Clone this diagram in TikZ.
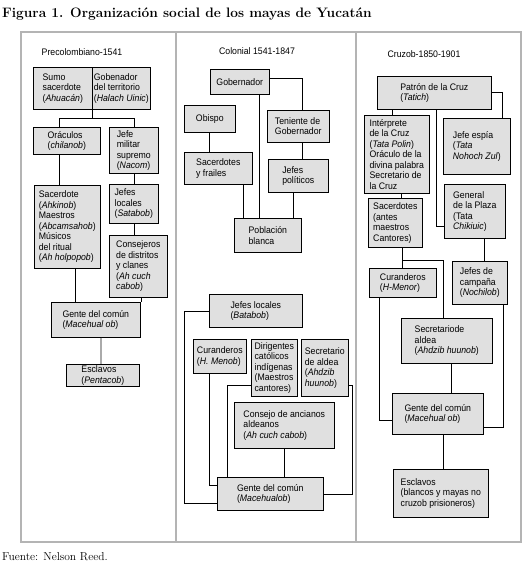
\documentclass[tikz,border=0pt]{standalone}
\usepackage{fontspec}
\newfontfamily\boxfont{Liberation Sans}[FakeStretch=0.92]
\usetikzlibrary{positioning}
\definecolor{boxgray}{RGB}{224,224,224}
\definecolor{framegray}{RGB}{180,180,180}
\definecolor{linkgray}{RGB}{170,170,170}

\begin{document}
\begin{tikzpicture}[
    x=1pt, y=-1pt,
    box/.style 2 args={rectangle, draw, fill=boxgray, line width=0.6pt, anchor=north west, minimum width=#1pt, minimum height=#2pt, inner sep=1.5pt, align=left, font=\boxfont\fontsize{9.5}{10.5}\selectfont},
    header/.style={font=\boxfont\fontsize{9.5}{10.5}\selectfont},
    link/.style={line width=0.8pt},
    softlink/.style={line width=1.6pt, linkgray},
    frame/.style={line width=1.6pt, framegray}
]
    \useasboundingbox (0,0) rectangle (529,573);

    % Title and frame
    \node[anchor=west, inner sep=0, font=\bfseries\fontsize{13.7}{15}\selectfont] (title) at (2,14) {Figura 1. Organización social de los mayas de Yucatán};
    \draw[frame] (21,32) rectangle (521,542);
    \draw[frame] (176,32) -- (176,542);
    \draw[frame] (356,32) -- (356,542);

    % Column headers
    \node[header] (hprecol) at (82,52) {Precolombiano-1541};
    \node[header] (hcolonial) at (257,51) {Colonial 1541-1847};
    \node[header] (hcruzob) at (424,54) {Cruzob-1850-1901};

    % Precolombiano
    \node[box={59}{42}] (sumo) at (33,67) {Sumo\\sacerdote\\(\textit{Ahuacán})};
    \node[box={58}{42}] (halach) at (92,67) {Gobenador\\del territorio\\(\textit{Halach Uinic})};
    \node[box={67}{27}] (oraculos) at (33,127) {Oráculos\\(\textit{chilanob})};
    \node[box={49}{46}] (nacom) at (109,127) {Jefe\\militar\\supremo\\(\textit{Nacom})};
    \node[box={66}{83}] (ahkinob) at (34,185) {Sacerdote\\(\textit{Ahkinob})\\Maestros\\(\textit{Abcamsahob})\\Músicos\\del ritual\\(\textit{Ah holpopob})};
    \node[box={49}{39}] (satabob) at (109,184) {Jefes\\locales\\(\textit{Satabob})};
    \node[box={58}{62}] (consejeros) at (109,235) {Consejeros\\de distritos\\y clanes\\(\textit{Ah cuch}\\\textit{cabob})};
    \node[box={89}{35}] (macehual) at (51,302) {Gente del común\\(\textit{Macehual ob})};
    \node[box={73}{22}] (pentacob) at (66,364) {Esclavos\\(\textit{Pentacob})};

    % Colonial
    \node[box={59}{25}] (gobernador) at (210,69) {Gobernador};
    \node[box={51}{27}] (obispo) at (184,105) {Obispo};
    \node[box={62}{32}] (teniente) at (267,110) {Teniente de\\Gobernador};
    \node[box={68}{32}] (frailes) at (184,152) {Sacerdotes\\y frailes};
    \node[box={60}{33}] (politicos) at (268,159) {Jefes\\políticos};
    \node[box={67}{34}] (blanca) at (234,218) {Población\\blanca};
    \node[box={93}{33}] (batabob) at (209,294) {Jefes locales\\(\textit{Batabob})};
    \node[box={53}{34}] (menob) at (193,339) {Curanderos\\(\textit{H. Menob})};
    \node[box={46}{57}] (dirigentes) at (251,339) {Dirigentes\\católicos\\indígenas\\(Maestros\\cantores)};
    \node[box={47}{57}] (ahdzib) at (301,339) {Secretario\\de aldea\\(\textit{Ahdzib}\\\textit{huunob})};
    \node[box={100}{46}] (ancianos) at (234,402) {Consejo de ancianos\\aldeanos\\(\textit{Ah cuch cabob})};
    \node[box={106}{33}] (macehualob) at (217,477) {Gente del común\\(\textit{Macehualob})};

    % Cruzob
    \node[box={114}{33}] (tatich) at (377,76) {Patrón de la Cruz\\(\textit{Tatich})};
    \node[box={67}{56}] (espia) at (443,118) {Jefe espía\\(\textit{Tata}\\\textit{Nohoch Zul})};
    \node[box={65}{78}] (polin) at (364,115) {Intérprete\\de la Cruz\\(\textit{Tata Polin})\\Oráculo de la\\divina palabra\\Secretario de\\la Cruz};
    \node[box={61}{54}] (chikiuic) at (444,184) {General\\de la Plaza\\(Tata\\\textit{Chikiuic})};
    \node[box={54}{49}] (cantores) at (368,198) {Sacerdotes\\(antes\\maestros\\Cantores)};
    \node[box={67}{29}] (hmenor) at (369,268) {Curanderos\\(\textit{H-Menor})};
    \node[box={55}{43}] (nochilob) at (452,261) {Jefes de\\campaña\\(\textit{Nochilob})};
    \node[box={91}{45}] (ahdzib3) at (401,318) {Secretariode\\aldea\\(\textit{Ahdzib huunob})};
    \node[box={91}{41}] (macehual3) at (392,393) {Gente del común\\(\textit{Macehual ob})};
    \node[box={95}{48}] (prisioneros) at (393,469) {Esclavos\\(blancos y mayas no\\cruzob prisioneros)};

    % Links precolombiano
    \draw[link] (sumo.south east) -- ++(0,9) coordinate (split);
    \draw[link] ([xshift=26pt]oraculos.north west) |- (split) -| ([xshift=25pt]nacom.north west);
    \draw[link] ([xshift=26pt]oraculos.south west) coordinate (a) -- (a |- ahkinob.north);
    \draw[link] ([xshift=25pt]nacom.south west) coordinate (a) -- (a |- satabob.north);
    \draw[link] ([xshift=25pt]satabob.south west) coordinate (a) -- (a |- consejeros.north);
    \draw[link] ([xshift=41pt]ahkinob.south west) coordinate (a) -- (a |- macehual.north);
    \draw[link] ([xshift=32pt]consejeros.south west) coordinate (a) -- (a |- macehual.north);
    \draw[softlink] ([xshift=50pt]macehual.south west) coordinate (a) -- (a |- pentacob.north);

    % Links colonial
    \draw[link] ([yshift=-9pt]gobernador.north east) -| ([xshift=35pt]teniente.north west);
    \draw[link] ([xshift=25pt]obispo.south west) coordinate (a) -- (a |- frailes.north);
    \draw[link] ([xshift=35pt]teniente.south west) coordinate (a) -- (a |- politicos.north);
    \draw[link] ([xshift=59pt]frailes.south west) coordinate (a) -- (a |- blanca.north);
    \draw[link] ([xshift=49pt]gobernador.south west) coordinate (a) -- (a |- blanca.north);
    \draw[link] ([xshift=25pt]politicos.south west) coordinate (a) -- (a |- blanca.north);
    \draw[link] ([yshift=-17pt]batabob.north west) -- ++(-25,0) |- ([yshift=-26pt]macehualob.north west);
    \draw[link] ([xshift=16pt]menob.south west) |- ([yshift=-8pt]macehualob.north west);
    \draw[link] ([yshift=-46pt]dirigentes.north west) -| ([xshift=10pt]macehualob.north west);
    \draw[link] ([yshift=-46pt]ahdzib.north east) -- ++(4,0) |- ([yshift=-17pt]macehualob.north east);
    \draw[link] (ancianos.south) -- (ancianos.south |- macehualob.north);

    % Links cruzob
    \draw[link] ([yshift=-16pt]tatich.north east) -| ([xshift=59pt]espia.north west);
    \draw[link] ([xshift=15pt]tatich.south west) coordinate (a) -- (a |- polin.north);
    \draw[link] ([xshift=59pt]tatich.south west) |- ([yshift=-42pt]chikiuic.north west);
    \draw[link] ([xshift=37pt]polin.south west) coordinate (a) -- (a |- cantores.north);
    \draw[link] ([xshift=34pt]cantores.south west) coordinate (a) -- (a |- hmenor.north);
    \draw[link] ([xshift=34pt]cantores.south west) ++(0,13) -| ([xshift=42pt]ahdzib3.north west);
    \draw[link] ([xshift=40pt]chikiuic.south west) coordinate (a) -- (a |- nochilob.north);
    \draw[link] ([xshift=10pt]hmenor.south west) |- ([yshift=-27pt]macehual3.north west);
    \draw[link] ([xshift=51pt]nochilob.south west) |- ([yshift=-34pt]macehual3.north east);
    \draw[link] ([xshift=50pt]ahdzib3.south west) coordinate (a) -- (a |- macehual3.north);
    \draw[link] ([xshift=51pt]macehual3.south west) coordinate (a) -- (a |- prisioneros.north);

    % Source
    \node[anchor=west, inner sep=0, font=\fontsize{11.5}{13}\selectfont] (fuente) at (2,557) {Fuente: Nelson Reed.};
\end{tikzpicture}
\end{document}
